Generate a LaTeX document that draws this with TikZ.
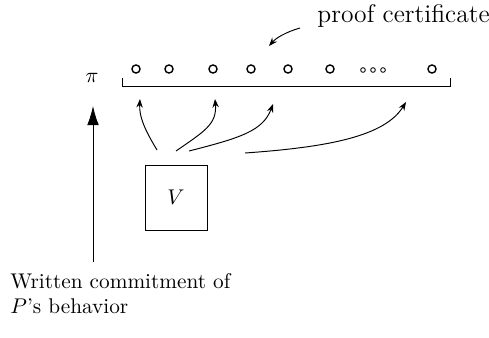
\documentclass[tikz,border=0pt]{standalone}
\usetikzlibrary{arrows.meta}
\begin{document}
\begin{tikzpicture}[x=0.47pt,y=-0.47pt,
  conn/.style={line width=0.45pt,-{Stealth[length=4pt,width=3pt]}},
  bigarrow/.style={line width=0.45pt,-{Latex[length=9pt,width=5.5pt]}},
  bit/.style={circle,draw,line width=0.65pt,inner sep=0pt,minimum size=3.8pt},
  tiny/.style={circle,draw,line width=0.4pt,inner sep=0pt,minimum size=2.2pt},
  vbox/.style={draw,line width=0.45pt,minimum width=62*0.47pt,minimum height=65*0.47pt,inner sep=0pt}]
\useasboundingbox (0,0) rectangle (489,337);
% bracket
\draw[line width=0.45pt] (122,78) -- (122,86) -- (450,86) -- (450,78);
\node (pi) at (92,78) {$\pi$};
% bits
\foreach \x/\n in {136/b1,169/b2,213/b3,251/b4,288/b5,330/b6,432/b7}
  \node[bit] (\n) at (\x,69) {};
\foreach \x/\n in {363/d1,373/d2,383/d3}
  \node[tiny] (\n) at (\x,70) {};
% label
\node[anchor=base west,inner sep=0pt,font=\fontsize{12}{14}\selectfont] (pc) at (317,22) {proof certificate};
\coordinate (pcs) at (300,28);
\coordinate (pce) at (269,46);
\draw[conn] (pcs) .. controls (286,32) and (276,38) .. (pce);
% verifier
\node[vbox] (V) at (176,197.5) {$V$};
\coordinate (s1) at (157,150);
\coordinate (s2) at (176,151);
\coordinate (s3) at (189,151);
\coordinate (s4) at (245,153);
\coordinate (e1) at (140,99);
\coordinate (e2) at (215,99);
\coordinate (e3) at (273,104);
\coordinate (e4) at (406,102);
\draw[conn] (s1) .. controls (145,130) and (139,117) .. (e1);
\draw[conn] (s2) .. controls (205,131) and (217,124) .. (e2);
\draw[conn] (s3) .. controls (240,138) and (263,131) .. (e3);
\draw[conn] (s4) .. controls (330,147) and (385,136) .. (e4);
% written commitment
\coordinate (wb) at (93,262);
\coordinate (wt) at (93,106);
\draw[bigarrow] (wb) -- (wt);
\node[anchor=north west,align=left,inner sep=0pt] (wc) at (10,273) {Written commitment of\\$P$'s behavior};
\end{tikzpicture}
\end{document}
